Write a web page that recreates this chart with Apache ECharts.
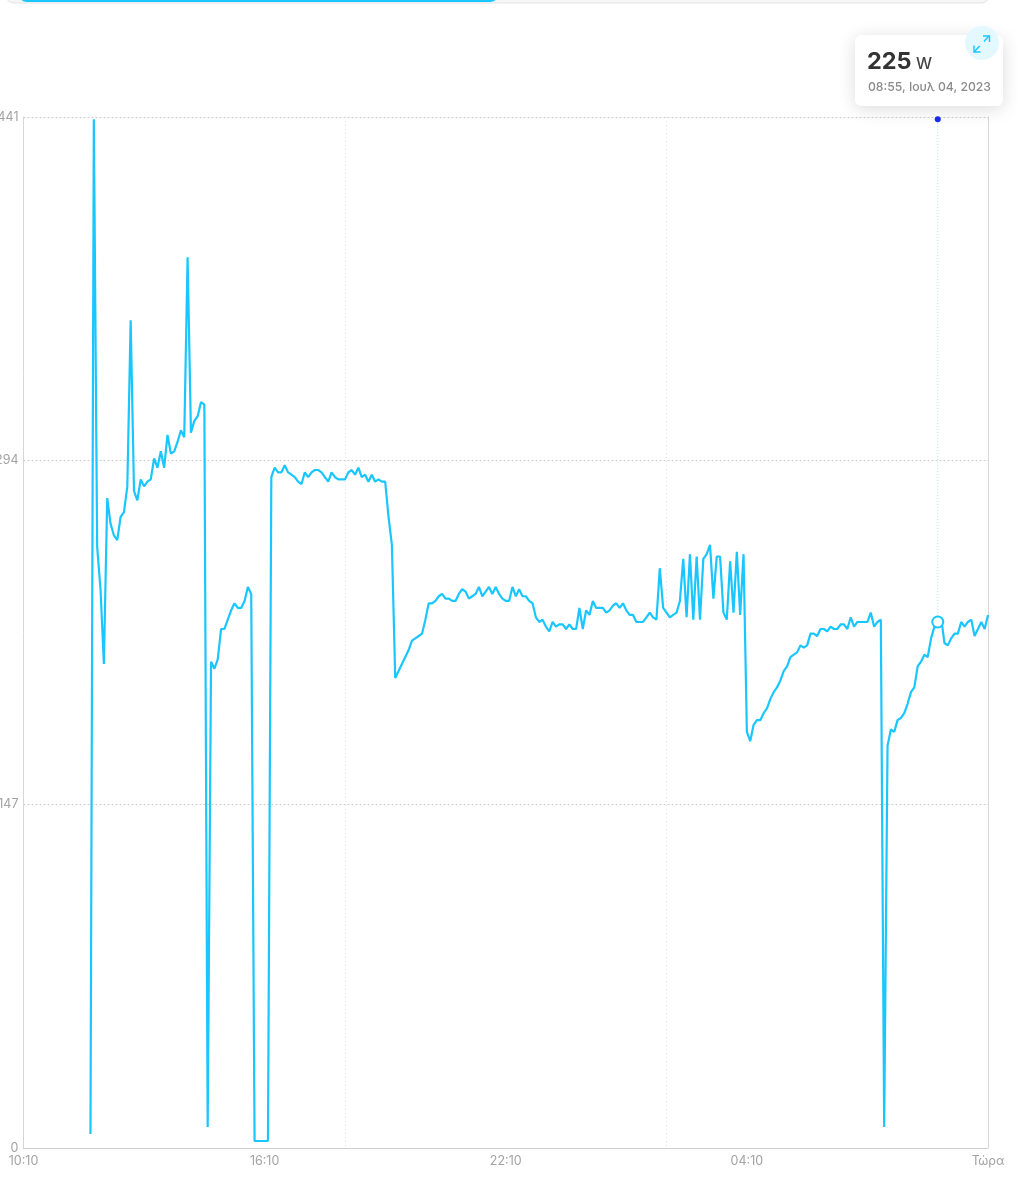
<!DOCTYPE html>
<html><head><meta charset="utf-8">
<style>html,body{margin:0;padding:0;background:#fff}#c{width:1018px;height:1200px}</style>
<script src="https://cdn.jsdelivr.net/npm/echarts@6/dist/echarts.min.js"></script>
</head><body><div id="c"></div>
<script>
const tickLabels = ['10:10','16:10','22:10','04:10','Τώρα'];
const yTicks = [0,147,294,441];
const sampleMinutes = 5;
const firstSample = 20;
const watts = [
6,440,257,239,207,278,267,262,260,270,272,283,354,281,277,286,283,285,286,295,
291,298,291,305,297,298,302,307,304,381,306,311,313,319,318,9,208,205,209,222,
222,226,230,233,231,231,234,240,237,3,3,3,3,3,287,291,289,289,292,289,
288,287,285,284,289,287,289,290,290,289,287,285,289,287,286,286,286,289,290,288,
291,287,288,285,288,285,286,285,285,270,258,201,204,207,210,213,217,218,219,220,
226,233,233,234,236,237,235,235,234,234,237,239,238,235,236,237,240,236,238,240,
237,240,237,235,234,234,240,236,239,236,236,234,233,227,225,226,223,221,225,223,
224,224,222,224,222,222,231,222,230,228,234,231,231,231,229,230,232,233,231,233,
230,228,228,225,225,225,227,229,227,226,248,231,229,227,228,229,234,252,227,254,
226,253,226,252,254,258,235,253,253,229,226,251,229,255,228,254,178,174,181,183,
183,186,188,192,195,197,200,204,206,210,211,212,215,214,215,220,220,219,222,222,
221,223,222,222,224,224,222,227,223,225,225,225,225,229,223,225,226,9,172,179,
178,183,184,186,190,195,197,206,208,211,210,218,223,225,227,216,215,218,220,220,
225,223,225,226,219,222,225,222,228
];
const hoverSample = 273;
const hoverValue = 225;
const hoverUnit = 'W';
const hoverDate = '08:55, Ιουλ 04, 2023';
const markerTop = 440;

const totalMinutes = 1440;
const hoverX = hoverSample * sampleMinutes;
const lineData = watts.map((v,k)=>[(firstSample+k)*sampleMinutes, v]);
const font = 'Inter, "Liberation Sans", sans-serif';
const cyan = '#1ac6ff';

const chart = echarts.init(document.getElementById('c'), null, {renderer:'canvas'});
chart.setOption({
  animation:false,
  backgroundColor:'#fff',
  grid:{left:23.5,right:30,top:117,bottom:52,containLabel:false,outerBoundsMode:'none'},
  xAxis:[{
    type:'value',min:0,max:totalMinutes,interval:360,
    axisLine:{show:true,onZero:false,lineStyle:{color:'#cfcfcf',width:1}},
    axisTick:{show:false},splitLine:{show:false},
    axisLabel:{color:'#a3a3a3',fontSize:12.5,fontFamily:font,margin:7,showMinLabel:true,showMaxLabel:true,
      formatter:(v)=>tickLabels[Math.round(v/360)]}
  },{
    type:'value',min:0,max:totalMinutes,interval:480,position:'bottom',
    axisLine:{show:false},axisTick:{show:false},axisLabel:{show:false},
    splitLine:{show:true,showMinLine:false,showMaxLine:false,lineStyle:{color:'#dedede',type:[1,3],width:1}}
  }],
  yAxis:[{
    type:'value',min:0,max:441,interval:147,
    axisLine:{show:true,onZero:false,lineStyle:{color:'#d6d6d6',width:1}},axisTick:{show:false},
    axisLabel:{color:'#a3a3a3',fontSize:12.5,fontFamily:font,margin:5,formatter:(v)=>yTicks.includes(v)?String(v):''},
    splitLine:{show:true,lineStyle:{color:'#cdcdcd',type:[2,2],width:1}}
  },{
    type:'value',min:0,max:441,interval:147,position:'right',
    axisLine:{show:true,onZero:false,lineStyle:{color:'#d6d6d6',width:1}},axisTick:{show:false},
    axisLabel:{show:false},splitLine:{show:false}
  }],
  series:[
    {type:'line',data:lineData,showSymbol:false,symbol:'none',smooth:false,
     lineStyle:{color:cyan,width:2.2},connectNulls:false,z:3},
    {type:'line',data:[[hoverX,hoverValue],[hoverX,markerTop]],symbol:'none',
     lineStyle:{color:'#a5e6ff',width:1,type:[1,2]},z:2},
    {type:'scatter',data:[[hoverX,markerTop]],symbol:'circle',symbolSize:6,
     itemStyle:{color:'#1a2bf0',opacity:1},z:4},
    {type:'scatter',data:[[hoverX,hoverValue]],symbol:'circle',symbolSize:11,
     itemStyle:{color:'#fff',borderColor:cyan,borderWidth:2,opacity:1},z:5}
  ],
  graphic:[
    {type:'rect',z:0,shape:{x:5,y:-16,width:985,height:19,r:9},style:{fill:'#f6f6f6',stroke:'#e4e4e4',lineWidth:1}},
    {type:'rect',z:1,shape:{x:18,y:-16,width:481,height:18,r:9},style:{fill:cyan}},
    {type:'rect',z:20,shape:{x:855,y:35,width:148,height:71,r:6},
     style:{fill:'#fff',shadowBlur:18,shadowColor:'rgba(0,0,0,0.14)',shadowOffsetY:3}},
    {type:'circle',z:21,shape:{cx:982,cy:43,r:17},style:{fill:'#e4f8ff'}},
    {type:'polyline',z:22,shape:{points:[[974,52],[989,36]]},style:{stroke:cyan,lineWidth:1.4,fill:'none'}},
    {type:'polyline',z:22,shape:{points:[[983,36],[989.5,36],[989.5,42]]},style:{stroke:cyan,lineWidth:1.4,fill:'none'}},
    {type:'polyline',z:22,shape:{points:[[974,45.5],[974,52],[980.5,52]]},style:{stroke:cyan,lineWidth:1.4,fill:'none'}},
    {type:'rect',z:22,shape:{x:979,y:41,width:5,height:5},style:{fill:'#e4f8ff'}},
    {type:'text',z:23,style:{x:867,y:62,text:String(hoverValue),font:'bold 23.5px '+font,fill:'#333',textVerticalAlign:'middle'}},
    {type:'text',z:23,style:{x:916,y:64,text:hoverUnit,font:'500 16px '+font,fill:'#444',textVerticalAlign:'middle'}},
    {type:'text',z:23,style:{x:868,y:87,text:hoverDate,font:'500 12.2px '+font,fill:'#8a8a8a',textVerticalAlign:'middle'}}
  ]
});
</script></body></html>
